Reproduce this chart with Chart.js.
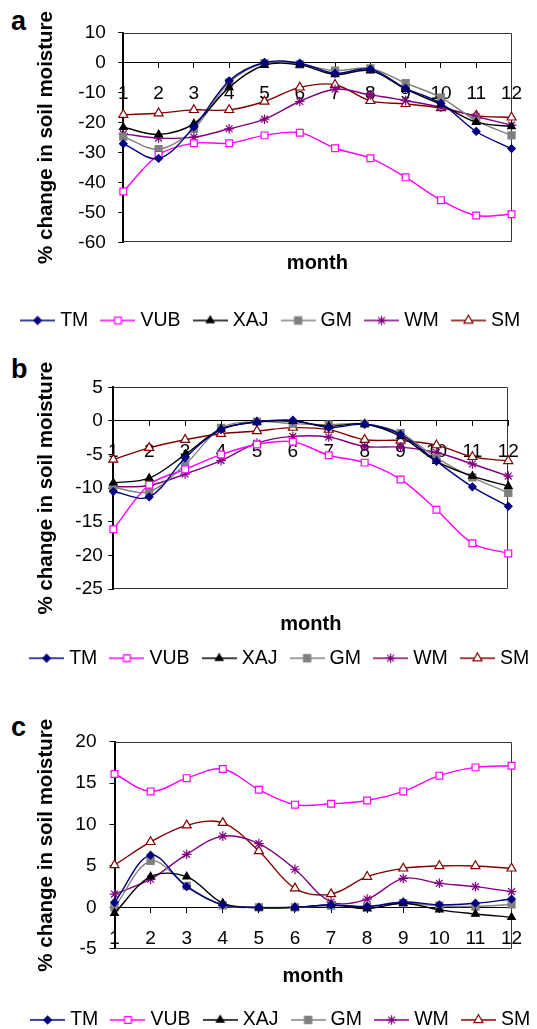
<!DOCTYPE html>
<html>
<head>
<meta charset="utf-8">
<script src="https://cdn.jsdelivr.net/npm/chart.js@4/dist/chart.umd.min.js"></script>
<style>
  html, body { margin: 0; padding: 0; width: 537px; height: 1029px; overflow: hidden; background: #fff; }
  canvas { position: absolute; left: 0; }
  .tag { position: absolute; left: 11px; font: bold 27px "Liberation Sans", Arial, sans-serif; line-height: 27px; color: #000; }
</style>
</head>
<body>
<div class="tag" style="top:8px">a</div>
<div class="tag" style="top:355.5px">b</div>
<div class="tag" style="top:714px">c</div>
<canvas id="panelA" width="537" height="341" style="top:0px"></canvas>
<canvas id="panelB" width="537" height="340" style="top:340px"></canvas>
<canvas id="panelC" width="537" height="360" style="top:680px"></canvas>
<script>
// Months on the category axis
const months = ['1', '2', '3', '4', '5', '6', '7', '8', '9', '10', '11', '12'];
const seriesNames = ['TM', 'VUB', 'XAJ', 'GM', 'WM', 'SM'];

// Panel a: % change in soil moisture
const tmA  = [-27.1, -32.0, -21.5, -6.1, 0.0, -0.2, -3.6, -2.2, -8.6, -13.6, -23.0, -28.7];
const vubA = [-43.0, -30.8, -26.9, -26.9, -24.3, -23.4, -28.6, -31.9, -38.3, -45.9, -51.0, -50.6];
const xajA = [-21.6, -24.0, -20.4, -8.3, -0.9, -0.8, -4.0, -2.7, -8.9, -14.0, -19.9, -21.3];
const gmA  = [-24.7, -28.9, -22.1, -6.7, -0.2, -0.6, -2.7, -2.0, -6.9, -11.7, -19.4, -24.3];
const wmA  = [-23.8, -25.2, -24.9, -22.1, -18.9, -13.0, -8.9, -10.8, -12.7, -14.9, -18.0, -20.9];
const smA  = [-17.4, -16.9, -15.8, -15.8, -13.0, -8.3, -7.4, -12.8, -13.8, -15.2, -17.7, -18.3];

// Panel b
const tmB  = [-10.5, -11.3, -5.5, -1.3, -0.15, 0.1, -1.0, -0.5, -2.0, -6.0, -9.8, -12.7];
const vubB = [-16.1, -9.5, -7.2, -5.0, -3.5, -3.1, -5.1, -6.2, -8.7, -13.2, -18.2, -19.7];
const xajB = [-9.2, -8.5, -5.0, -1.2, -0.15, -0.05, -0.8, -0.45, -2.3, -6.0, -8.2, -9.7];
const gmB  = [-9.9, -10.5, -6.5, -1.05, -0.1, -0.4, -0.55, -0.45, -1.8, -5.5, -8.4, -10.7];
const wmB  = [-9.8, -9.6, -7.9, -5.9, -3.3, -2.3, -2.4, -3.8, -3.9, -4.7, -6.4, -8.2];
const smB  = [-5.75, -4.0, -2.8, -1.9, -1.5, -1.0, -1.3, -2.8, -2.9, -3.6, -5.35, -5.95];

// Panel c
const tmC  = [0.6, 6.3, 2.5, 0.3, 0.0, 0.0, 0.3, 0.1, 0.65, 0.3, 0.5, 1.0];
const vubC = [16.1, 14.0, 15.6, 16.7, 14.2, 12.4, 12.5, 12.9, 14.0, 15.9, 16.9, 17.1];
const xajC = [-0.7, 3.7, 3.7, 0.5, -0.05, 0.0, 0.3, -0.15, 0.5, -0.3, -0.8, -1.2];
const gmC  = [0.0, 5.6, 2.6, 0.25, 0.0, 0.0, 0.2, 0.1, 0.5, 0.2, 0.1, 0.35];
const wmC  = [1.6, 3.4, 6.4, 8.6, 7.7, 4.6, 0.65, 1.0, 3.5, 2.9, 2.5, 1.9];
const smC  = [5.1, 7.9, 9.9, 10.2, 6.8, 2.3, 1.6, 3.7, 4.7, 5.0, 5.0, 4.7];

const FONT = '"Liberation Sans", Arial, sans-serif';

const styles = [
  { color: '#000080', fill: '#000080', pointStyle: 'rectRot',  radius: 3.8 },
  { color: '#FF00FF', fill: '#FFFFFF', pointStyle: 'rect',     radius: 4.8 },
  { color: '#000000', fill: '#000000', pointStyle: 'triangle', radius: 4.4 },
  { color: '#808080', fill: '#808080', pointStyle: 'rect',     radius: 5.0 },
  { color: '#800080', fill: '#800080', pointStyle: 'star',     radius: 4.8 },
  { color: '#800000', fill: '#FFFFFF', pointStyle: 'triangle', radius: 5.2 }
];

// Line-with-marker swatches for the legend
function makeSwatch(st) {
  const c = document.createElement('canvas');
  c.width = 35; c.height = 14;
  const g = c.getContext('2d');
  g.strokeStyle = st.color;
  g.lineWidth = 1.4;
  g.beginPath(); g.moveTo(0, 7); g.lineTo(35, 7); g.stroke();
  g.fillStyle = st.fill;
  g.lineWidth = 1.2;
  Chart.helpers.drawPoint(g, { pointStyle: st.pointStyle, radius: st.radius, rotation: 0, borderWidth: 1.2 }, 17.5, 7);
  return c;
}
const swatches = styles.map(makeSwatch);

// Thin box around the plot area (top, right, bottom edges)
const framePlugin = {
  id: 'plotFrame',
  beforeDatasetsDraw(chart) {
    const { ctx, chartArea: { left, right, top, bottom } } = chart;
    const t = Math.round(top) + 0.5, b = Math.round(bottom) - 0.5, r = Math.round(right) - 0.5;
    ctx.save();
    ctx.strokeStyle = '#333';
    ctx.lineWidth = 1;
    ctx.beginPath();
    ctx.moveTo(left, t); ctx.lineTo(r, t); ctx.lineTo(r, b); ctx.lineTo(left, b);
    ctx.stroke();
    ctx.restore();
  }
};

// Extra room on the right so the legend stays on one row
const LEGEND_OVERHANG = 30;

function buildPanel(cfg) {
  const datasets = cfg.values.map((vals, i) => ({
    label: seriesNames[i],
    data: vals,
    xAxisID: 'x',
    yAxisID: 'y',
    borderColor: styles[i].color,
    backgroundColor: styles[i].fill,
    borderWidth: 1.4,
    tension: 0.35,
    fill: false,
    pointStyle: styles[i].pointStyle,
    pointRadius: styles[i].radius,
    pointHoverRadius: styles[i].radius,
    pointBackgroundColor: styles[i].fill,
    pointBorderColor: styles[i].color,
    pointBorderWidth: 1.2
  }));

  new Chart(document.getElementById(cfg.canvas), {
    type: 'line',
    data: { labels: months, datasets },
    options: {
      responsive: false,
      animation: false,
      events: [],
      layout: { padding: { left: cfg.padLeft, right: -LEGEND_OVERHANG, top: cfg.padTop, bottom: cfg.padBottom } },
      plugins: {
        tooltip: { enabled: false },
        legend: {
          position: 'bottom',
          align: 'start',
          labels: {
            usePointStyle: true,
            pointStyleWidth: 25.6,
            padding: 16.8,
            color: '#000',
            font: { family: FONT, size: 19.5 },
            generateLabels: chart => chart.data.datasets.map((ds, i) => ({
              text: ds.label,
              pointStyle: swatches[i],
              fillStyle: ds.borderColor,
              strokeStyle: ds.borderColor,
              lineWidth: 0,
              hidden: false,
              datasetIndex: i,
              fontColor: '#000'
            }))
          }
        }
      },
      scales: {
        x: {
          type: 'category',
          position: { y: 0 },
          offset: false,
          grid: { drawOnChartArea: false, drawTicks: true, tickLength: 5, color: '#000', lineWidth: 1 },
          border: { display: true, color: '#000', width: 1 },
          ticks: { color: '#000', font: { family: FONT, size: 19 }, padding: 14.9, maxRotation: 0, autoSkip: false }
        },
        xt: {
          type: 'category',
          position: 'bottom',
          labels: months,
          grid: { display: false, drawTicks: false },
          border: { display: false },
          ticks: { display: false },
          title: {
            display: true, text: 'month', color: '#000',
            font: { family: FONT, size: 20, weight: 'bold', lineHeight: 1.2 },
            padding: { top: cfg.mTop, bottom: cfg.mBottom }
          }
        },
        y: {
          type: 'linear',
          position: 'left',
          min: cfg.yMin,
          max: cfg.yMax,
          ticks: { stepSize: cfg.yStep, color: '#000', font: { family: FONT, size: 19 }, padding: cfg.tickPad },
          grid: { drawOnChartArea: false, drawTicks: true, tickLength: 5, color: '#000', lineWidth: 1 },
          border: { display: true, color: '#000', width: 2 },
          title: {
            display: true, text: '% change in soil moisture', color: '#000',
            font: { family: FONT, size: 20.5, weight: 'bold', lineHeight: 1.2 },
            padding: { top: cfg.ytPad, bottom: 0 }
          },
          afterFit: s => { s.width = cfg.yWidth; }
        },
        yr: {
          type: 'linear',
          position: 'right',
          grid: { display: false, drawTicks: false },
          border: { display: false },
          ticks: { display: false },
          afterFit: s => { s.width = cfg.rWidth + LEGEND_OVERHANG; }
        }
      }
    },
    plugins: [framePlugin]
  });
}

buildPanel({
  canvas: 'panelA', values: [tmA, vubA, xajA, gmA, wmA, smA],
  yMin: -60, yMax: 10, yStep: 10,
  padLeft: 8, padTop: 32.5, padBottom: 0.75,
  yWidth: 115.3, rWidth: 24.7, tickPad: 12.5, ytPad: 26.5,
  mTop: 9, mBottom: 18.5
});
buildPanel({
  canvas: 'panelB', values: [tmB, vubB, xajB, gmB, wmB, smB],
  yMin: -25, yMax: 5, yStep: 5,
  padLeft: 17, padTop: 47.3, padBottom: 2.05,
  yWidth: 96.3, rWidth: 28.7, tickPad: 5.5, ytPad: 17.5,
  mTop: 23.4, mBottom: -4.8
});
buildPanel({
  canvas: 'panelC', values: [tmC, vubC, xajC, gmC, wmC, smC],
  yMin: -5, yMax: 20, yStep: 5,
  padLeft: 18, padTop: 61.7, padBottom: 0.35,
  yWidth: 96.5, rWidth: 18.5, tickPad: 13, ytPad: 16.5,
  mTop: 15.3, mBottom: 5.3
});
</script>
</body>
</html>
